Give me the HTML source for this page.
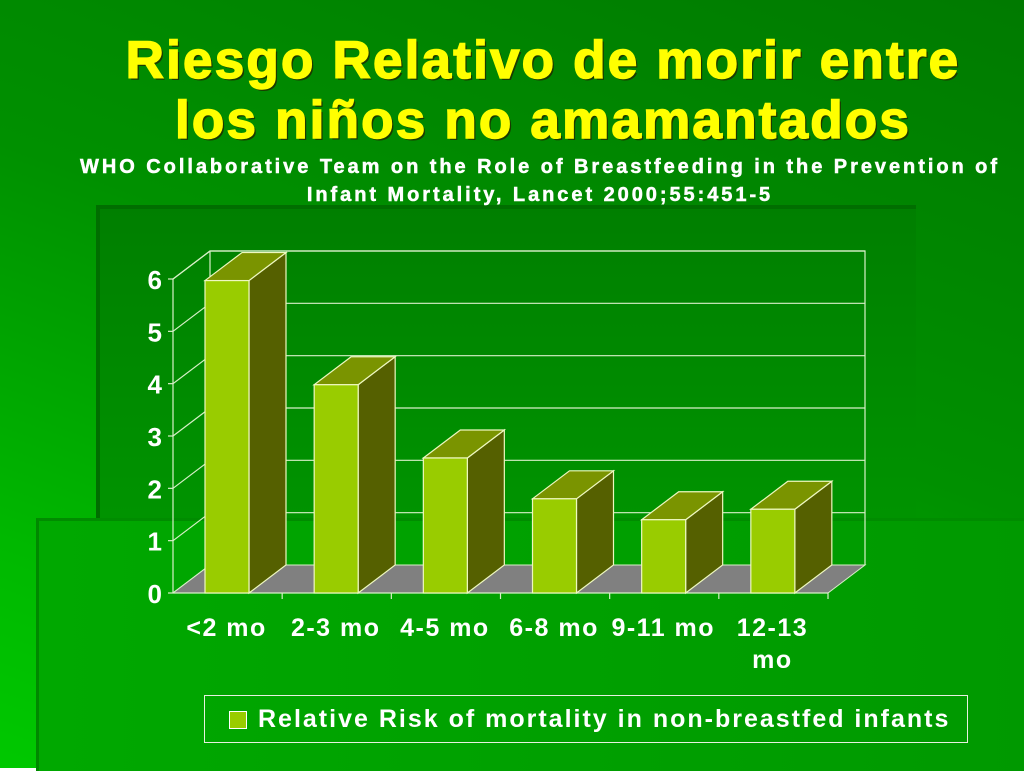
<!DOCTYPE html>
<html><head><meta charset="utf-8"><style>
body{margin:0;width:1024px;height:768px;overflow:hidden;font-family:"Liberation Sans",Arial,sans-serif;}
#bg{position:absolute;left:0;top:0;width:1024px;height:768px;background:linear-gradient(200deg,#007a00 0%,#009000 45%,#00b800 80%,#00c800 100%);}
.panel{position:absolute;}
</style></head><body>
<div id="bg"></div>
<div class="panel" style="left:96px;top:205px;width:816px;height:320px;background:linear-gradient(180deg,#007f00,#009400);border-left:4px solid #006e00;border-top:4px solid #006e00;"></div>
<div class="panel" style="left:36px;top:518px;width:988px;height:250px;background:linear-gradient(90deg,#00a800,#009900);border-left:3px solid #008800;border-top:3px solid #008c00;"></div>
<div style="position:absolute;left:0;top:31px;width:1086px;text-align:center;color:#ffff00;font-weight:bold;font-size:53px;line-height:60px;letter-spacing:2.2px;-webkit-text-stroke:1.5px #ffff00;text-shadow:2px 2px 0 #1a3a00;white-space:nowrap;">Riesgo Relativo de morir entre<br>los niños no amamantados</div>
<div style="position:absolute;left:0;top:153px;width:1080px;text-align:center;color:#fff;font-weight:bold;font-size:20px;line-height:28px;letter-spacing:2.95px;-webkit-text-stroke:0.5px #fff;white-space:nowrap;">WHO Collaborative Team on the Role of Breastfeeding in the Prevention of<br>Infant Mortality, Lancet 2000;55:451-5</div>
<svg id="chart" width="1024" height="768" style="position:absolute;left:0;top:0"></svg>
<div style="position:absolute;left:204px;top:695px;width:764px;height:48px;border:1.5px solid #e8f0e0;box-sizing:border-box;color:#fff;font-weight:bold;font-size:25px;line-height:46px;letter-spacing:2px;white-space:nowrap;">
<span style="position:absolute;left:24px;top:15px;width:16px;height:16px;background:#99cc00;border:1px solid #fff;"></span>
<span style="position:absolute;left:53px;top:0;">Relative Risk of mortality in non-breastfed infants</span></div>
<script>
const categories=["<2 mo","2-3 mo","4-5 mo","6-8 mo","9-11 mo","12-13 mo"];
const values=[5.97,3.98,2.58,1.8,1.4,1.6];
const ticks=[0,1,2,3,4,5,6];
const svg=document.getElementById('chart');
const NS='http://www.w3.org/2000/svg';
const x0=173,x1=828,yb=593,yt=279,ymax=6,dx=37,dy=-28;
const y=v=>yb-(v/ymax)*(yb-yt);
const bw=(x1-x0)/categories.length;
function el(t,a,name){const e=document.createElementNS(NS,t);for(const k in a)e.setAttribute(k,a[k]);


svg.appendChild(e);return e;}
const ln='#d8f0c8';
ticks.forEach(t=>{
 if(t>0)el('line',{x1:x0+dx,y1:y(t)+dy,x2:x1+dx,y2:y(t)+dy,stroke:ln,'stroke-width':1.2},'gridline');
 el('line',{x1:x0,y1:y(t),x2:x0+dx,y2:y(t)+dy,stroke:ln,'stroke-width':1.2},'side-gridline');
 el('line',{x1:x0-5,y1:y(t),x2:x0,y2:y(t),stroke:ln,'stroke-width':1.2},'y-tick');
 const tx=el('text',{x:x0-11,y:y(t)+10,'text-anchor':'end',fill:'#fff','font-size':26,'font-weight':'bold'},'y-tick-label');tx.textContent=t;
});
el('polygon',{points:`${x0},${yb} ${x1},${yb} ${x1+dx},${yb+dy} ${x0+dx},${yb+dy}`,fill:'#808080',stroke:ln,'stroke-width':1},'floor');
el('polyline',{points:`${x0},${yb} ${x0},${yt} ${x0+dx},${yt+dy} ${x1+dx},${yt+dy} ${x1+dx},${yb+dy}`,fill:'none',stroke:ln,'stroke-width':1.2},'walls');
el('line',{x1:x0+dx,y1:yt+dy,x2:x0+dx,y2:yb+dy,stroke:ln,'stroke-width':1.2},'back-corner');
el('line',{x1:x0,y1:yb,x2:x1,y2:yb,stroke:ln,'stroke-width':1.2},'x-axis');
categories.forEach((c,i)=>{
 const tx0=x0+bw*(i+1);
 el('line',{x1:tx0,y1:yb,x2:tx0,y2:yb+6,stroke:ln,'stroke-width':1.2},'x-tick');
 const bx=x0+bw*i+32,w=44,top=y(values[i]);
 el('polygon',{points:`${bx+w},${yb} ${bx+w+dx},${yb+dy} ${bx+w+dx},${top+dy} ${bx+w},${top}`,fill:'#556000',stroke:'#eef8c0','stroke-width':1.2},'bar-side');
 el('polygon',{points:`${bx},${top} ${bx+dx},${top+dy} ${bx+w+dx},${top+dy} ${bx+w},${top}`,fill:'#7a9400',stroke:'#eef8c0','stroke-width':1.2},'bar-top');
 el('rect',{x:bx,y:top,width:w,height:yb-top,fill:'#99cc00',stroke:'#eef8c0','stroke-width':1.2},'bar-front');
 const cx=x0+bw*(i+0.5)-1;
 const parts=c==="12-13 mo"?["12-13","mo"]:[c];
 parts.forEach((p,j)=>{const t=el('text',{x:cx,y:636+j*32,'text-anchor':'middle',fill:'#fff','font-size':25,'font-weight':'bold','letter-spacing':1.5},'x-tick-label');t.textContent=p;});
});
</script>
</body></html>
